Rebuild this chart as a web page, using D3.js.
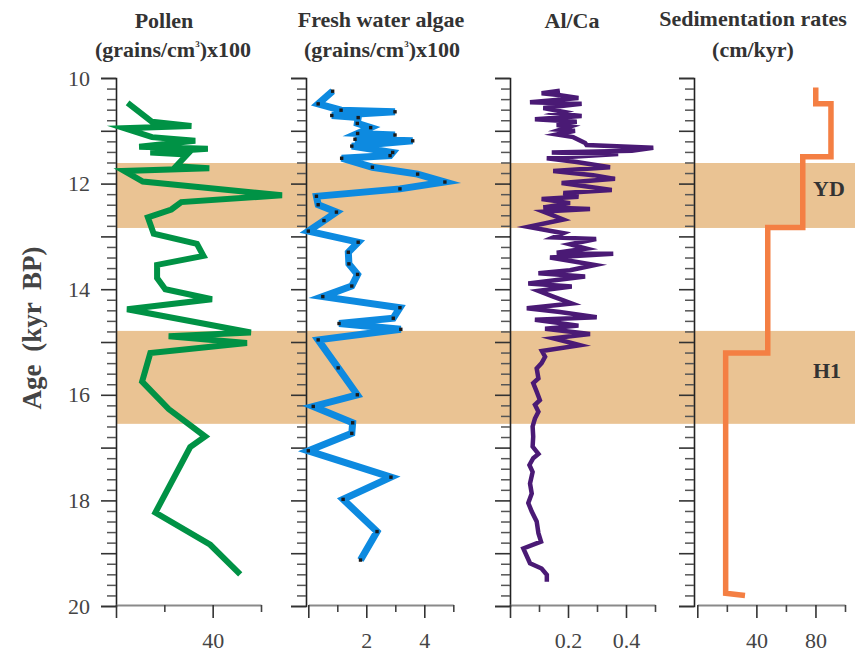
<!DOCTYPE html>
<html><head><meta charset="utf-8">
<script src="https://cdn.jsdelivr.net/npm/d3@7"></script>
<style>
html,body{margin:0;padding:0;background:#fff;}
svg{display:block;}
text{font-family:"Liberation Serif","Times New Roman",serif;}
</style></head>
<body>
<script>
// ---------------- DATA ----------------
// Pollen (grains/cm3 x100) vs age (kyr BP)
const pollenAge = [10.47,10.83,10.91,10.95,11.12,11.19,11.30,11.34,11.41,11.45,11.67,11.71,11.76,11.96,12.22,12.35,12.49,12.64,12.95,13.14,13.37,13.54,13.79,14.00,14.19,14.38,14.82,14.89,15.02,15.21,15.75,16.27,16.79,16.99,18.23,18.84,19.40];
const pollenVal = [4.8,14.9,31.2,3.4,14.9,32.8,9.6,38.0,14.2,29.4,24.9,38.6,3.4,11.1,68.7,27.0,22.9,13.2,15.6,33.5,36.2,17.0,17.0,20.4,39.7,4.6,55.8,21.8,54.2,14.2,10.8,21.8,36.9,30.7,16.3,39.0,51.4];

// Fresh water algae (grains/cm3 x100)
const algaeAge = [10.25,10.49,10.61,10.64,10.71,10.75,10.86,10.94,11.05,11.08,11.16,11.19,11.29,11.41,11.47,11.52,11.69,11.82,11.97,12.10,12.24,12.40,12.54,12.70,12.90,13.11,13.30,13.52,13.72,13.94,14.14,14.35,14.55,14.65,14.76,14.96,15.49,16.00,16.22,16.53,16.73,17.06,17.56,17.98,18.59,19.13];
const algaeVal = [0.84,0.34,1.13,2.99,0.81,1.72,1.69,2.15,1.70,2.99,1.61,3.60,1.50,2.91,2.82,1.15,2.21,3.77,4.71,3.16,0.28,0.34,0.97,0.54,0.00,1.72,1.38,1.40,1.70,1.50,0.50,3.16,2.93,1.06,3.19,0.34,1.03,1.69,0.17,1.53,1.50,0.00,2.85,1.20,2.37,1.80];

// Al/Ca ratio
const alcaAge = [10.24,10.29,10.32,10.38,10.46,10.49,10.57,10.64,10.67,10.72,10.78,10.83,10.89,10.92,10.98,11.00,11.07,11.12,11.23,11.27,11.32,11.38,11.41,11.44,11.52,11.59,11.69,11.76,11.84,11.91,11.99,12.12,12.18,12.25,12.29,12.37,12.45,12.48,12.53,12.68,12.82,12.94,13.02,13.05,13.15,13.23,13.31,13.33,13.40,13.54,13.64,13.70,13.76,13.89,13.95,14.03,14.14,14.27,14.36,14.43,14.53,14.58,14.69,14.75,14.85,14.93,15.06,15.17,15.28,15.40,15.50,15.69,15.78,15.94,16.10,16.19,16.32,16.45,16.60,16.79,16.98,17.12,17.20,17.33,17.46,17.68,17.87,18.05,18.21,18.40,18.62,18.78,18.91,19.19,19.29,19.41,19.54];
const alcaVal = [0.172,0.109,0.167,0.236,0.069,0.247,0.115,0.184,0.161,0.247,0.086,0.230,0.161,0.207,0.172,0.224,0.161,0.218,0.259,0.264,0.494,0.420,0.144,0.373,0.127,0.230,0.345,0.149,0.287,0.362,0.178,0.351,0.184,0.236,0.109,0.207,0.115,0.276,0.115,0.184,0.063,0.184,0.149,0.297,0.207,0.264,0.161,0.356,0.138,0.293,0.207,0.098,0.259,0.063,0.213,0.098,0.149,0.213,0.058,0.172,0.299,0.086,0.236,0.121,0.276,0.149,0.241,0.110,0.121,0.109,0.092,0.098,0.080,0.092,0.103,0.086,0.098,0.086,0.078,0.080,0.078,0.098,0.080,0.067,0.078,0.069,0.075,0.063,0.075,0.092,0.098,0.107,0.046,0.069,0.109,0.127,0.127];

// Sedimentation rates (cm/kyr): intervals
const sedTop    = [10.18,10.49,11.49,12.83,15.21];
const sedBottom = [10.49,11.49,12.83,15.21,19.76];
const sedRate   = [80.2,90.5,71.4,47.7,19.2];
const sedTail   = [32.3,19.80];

// Shaded events
const bandNames = ["YD","H1"];
const bandStart = [11.61,14.79];
const bandEnd   = [12.84,16.55];

// Axis ticks
const ageMajor = [10,11,12,13,14,15,16,17,18,19,20];
const ageLabels = [10,12,14,16,18,20];

// ---------------- CHART ----------------
const W = 855, H = 662;
const svg = d3.select("body").append("svg").attr("width", W).attr("height", H);

const y = d3.scaleLinear().domain([10,20]).range([78,606]);
const xAxisY = 605;

const panels = [
  {ax:116, x:d3.scaleLinear().domain([0,60]).range([116,261]),   major:[0,40], minor:[20,60], labels:[40]},
  {ax:306, x:d3.scaleLinear().domain([0,5]).range([308.3,453.3]), major:[0,2,4], minor:[1,3,5], labels:[2,4]},
  {ax:510, x:d3.scaleLinear().domain([0,0.5]).range([510,655]),   major:[0,0.2,0.4], minor:[0.1,0.3,0.5], labels:[0.2,0.4]},
  {ax:694, x:d3.scaleLinear().domain([0,100]).range([697.3,845]), major:[0,40,80], minor:[20,60,100], labels:[40,80]}
];

// bands
const bandColor = "#eac393";
bandNames.forEach((n,i)=>{
  svg.append("rect").attr("x",116).attr("width",W-116)
    .attr("y",y(bandStart[i])).attr("height",y(bandEnd[i])-y(bandStart[i]))
    .attr("fill",bandColor);
});

// minor age ticks
const ageMinor = d3.range(10,20.001,0.2).map(v=>+v.toFixed(1)).filter(v=>Math.abs(v-Math.round(v))>0.01);

panels.forEach((p,i)=>{
  // y axis
  const gMaj = svg.append("g").attr("transform",`translate(${p.ax},0)`)
    .call(d3.axisLeft(y).tickValues(ageMajor).tickSize(15)
      .tickFormat(d=> (i===0 && ageLabels.includes(d)) ? d : ""));
  gMaj.select(".domain").attr("stroke","#222").attr("stroke-width",1.6);
  gMaj.selectAll(".tick line").attr("stroke","#333").attr("stroke-width",1.6);
  gMaj.selectAll(".tick text").attr("x",-26).attr("fill","#444")
     .style("font-size","22px").style("font-family","Liberation Serif, serif");
  const gMin = svg.append("g").attr("transform",`translate(${p.ax},0)`)
    .call(d3.axisLeft(y).tickValues(ageMinor).tickSize(9).tickFormat(""));
  gMin.select(".domain").remove();
  gMin.selectAll(".tick line").attr("stroke","#555").attr("stroke-width",1.5);

  // x axis
  const gx = svg.append("g").attr("transform",`translate(0,${xAxisY})`)
    .call(d3.axisBottom(p.x).tickValues(p.major).tickSize(13).tickSizeOuter(0)
      .tickFormat(d=> p.labels.includes(d) ? d3.format("")(d) : ""));
  gx.select(".domain").attr("stroke","#8a8a8a").attr("stroke-width",2);
  gx.selectAll(".tick line").attr("stroke","#333").attr("stroke-width",1.6);
  gx.selectAll(".tick text").attr("y",27).attr("dy","0.71em").attr("fill","#444")
     .style("font-size","22px").style("font-family","Liberation Serif, serif");
  const gxm = svg.append("g").attr("transform",`translate(0,${xAxisY})`)
    .call(d3.axisBottom(p.x).tickValues(p.minor).tickSize(7).tickFormat(""));
  gxm.select(".domain").remove();
  gxm.selectAll(".tick line").attr("stroke","#444").attr("stroke-width",1.6);
});

// lines
function mkLine(xs){ return d3.line().x(d=>xs(d[0])).y(d=>y(d[1])); }

const pollen = pollenVal.map((v,i)=>[v,pollenAge[i]]);
svg.append("path").datum(pollen).attr("d",mkLine(panels[0].x))
  .attr("fill","none").attr("stroke","#009245").attr("stroke-width",6)
  .attr("stroke-linejoin","miter").attr("stroke-miterlimit",6);

const algae = algaeVal.map((v,i)=>[v,algaeAge[i]]);
svg.append("path").datum(algae).attr("d",mkLine(panels[1].x))
  .attr("fill","none").attr("stroke","#0d8ae0").attr("stroke-width",7)
  .attr("stroke-linejoin","miter").attr("stroke-miterlimit",5);
svg.selectAll("rect.dot").data(algae).enter().append("rect").attr("class","dot")
  .attr("x",d=>panels[1].x(d[0])-1.7).attr("y",d=>y(d[1])-1.7)
  .attr("width",3.4).attr("height",3.4).attr("fill","#1a1a1a");

const alca = alcaVal.map((v,i)=>[v,alcaAge[i]]);
svg.append("path").datum(alca).attr("d",mkLine(panels[2].x))
  .attr("fill","none").attr("stroke","#4a1a75").attr("stroke-width",4.5)
  .attr("stroke-linejoin","miter").attr("stroke-miterlimit",6);

const sed = [];
sedRate.forEach((r,i)=>{ sed.push([r,sedTop[i]]); sed.push([r,sedBottom[i]]); });
sed.push(sedTail);
svg.append("path").datum(sed).attr("d",mkLine(panels[3].x))
  .attr("fill","none").attr("stroke","#f47f43").attr("stroke-width",5.5)
  .attr("stroke-linejoin","miter");

// band labels
const bandLabelX = [829, 827];
bandNames.forEach((n,i)=>{
  svg.append("text").attr("x",bandLabelX[i]).attr("y",(y(bandStart[i])+y(bandEnd[i]))/2 - 7)
    .attr("dy","0.35em").attr("text-anchor","middle").attr("fill","#333")
    .style("font-size","22px").style("font-weight","bold").text(n);
});

// titles
function title(x, yy, txt){
  return svg.append("text").attr("x",x).attr("y",yy).attr("text-anchor","middle")
    .attr("fill","#333").style("font-size","22px").style("font-weight","bold").text(txt);
}
function unitTitle(x, yy){
  const t = svg.append("text").attr("x",x).attr("y",yy).attr("text-anchor","middle")
    .attr("fill","#333").style("font-size","22px").style("font-weight","bold");
  t.append("tspan").text("(grains/cm");
  t.append("tspan").attr("dy",-10).style("font-size","9px").text("3");
  t.append("tspan").attr("dy",10).text(")x100");
}
title(164, 28, "Pollen");
unitTitle(173, 57);
title(381, 27, "Fresh water algae");
unitTitle(382, 57);
title(572, 28, "Al/Ca");
title(753, 26, "Sedimentation rates");
title(753, 57, "(cm/kyr)");

// y label
svg.append("text").attr("transform","translate(41,328) rotate(-90)")
  .attr("text-anchor","middle").attr("fill","#444")
  .style("font-size","27px").style("font-weight","bold").style("word-spacing","6px")
  .text("Age (kyr BP)");
</script>
</body></html>
